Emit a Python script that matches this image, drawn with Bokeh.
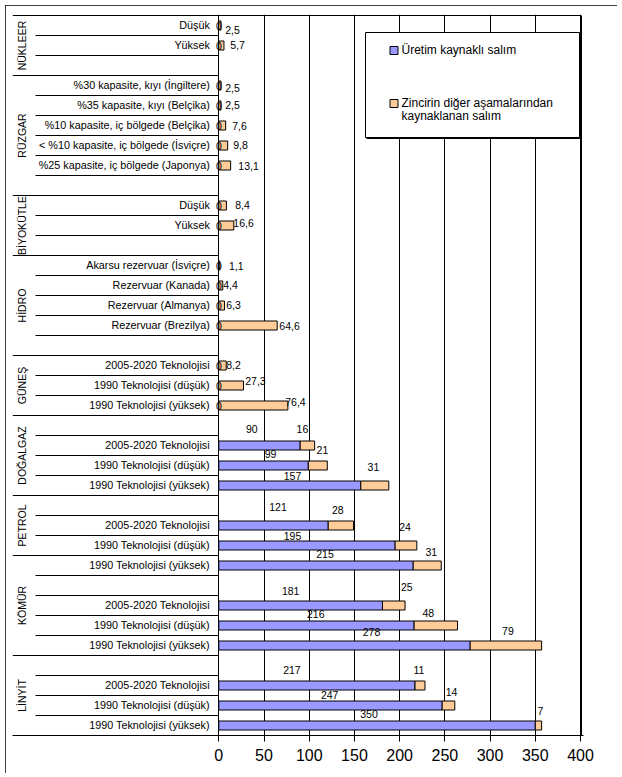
from bokeh.plotting import figure
from bokeh.models import Range1d, FixedTicker, ColumnDataSource
from bokeh.core.properties import value
from bokeh.embed import file_html
from bokeh.resources import INLINE

# ---------------- data ----------------
groups = ["NÜKLEER", "RÜZGAR", "BİYOKÜTLE", "HİDRO", "GÜNEŞ",
          "DOĞALGAZ", "PETROL", "KÖMÜR", "LİNYİT"]
group_sizes = [3, 6, 3, 5, 3, 4, 3, 5, 4]

categories = [
    "Düşük", "Yüksek", "",
    "%30 kapasite, kıyı (İngiltere)", "%35 kapasite, kıyı (Belçika)",
    "%10 kapasite, iç bölgede (Belçika)", "< %10 kapasite, iç bölgede (İsviçre)",
    "%25 kapasite, iç bölgede (Japonya)", "",
    "Düşük", "Yüksek", "",
    "Akarsu rezervuar (İsviçre)", "Rezervuar (Kanada)", "Rezervuar (Almanya)",
    "Rezervuar (Brezilya)", "",
    "2005-2020 Teknolojisi", "1990 Teknolojisi (düşük)", "1990 Teknolojisi (yüksek)",
    "", "2005-2020 Teknolojisi", "1990 Teknolojisi (düşük)", "1990 Teknolojisi (yüksek)",
    "", "2005-2020 Teknolojisi", "1990 Teknolojisi (düşük)", "1990 Teknolojisi (yüksek)",
    "", "2005-2020 Teknolojisi", "1990 Teknolojisi (düşük)", "1990 Teknolojisi (yüksek)",
    "", "2005-2020 Teknolojisi", "1990 Teknolojisi (düşük)", "1990 Teknolojisi (yüksek)",
]
NA = float("nan")
production = [0, 0, NA,
              0, 0, 0, 0, 0, NA,
              0, 0, NA,
              0, 0, 0, 0, NA,
              0, 0, 0,
              NA, 90, 99, 157,
              NA, 121, 195, 215,
              NA, 181, 216, 278,
              NA, 217, 247, 350]
chain = [2.5, 5.7, NA,
         2.5, 2.5, 7.6, 9.8, 13.1, NA,
         8.4, 16.6, NA,
         1.1, 4.4, 6.3, 64.6, NA,
         8.2, 27.3, 76.4,
         NA, 16, 21, 31,
         NA, 28, 24, 31,
         NA, 25, 48, 79,
         NA, 11, 14, 7]
series_names = ["Üretim kaynaklı salım",
                ["Zincirin diğer aşamalarından", "kaynaklanan salım"]]
x_ticks = [0, 50, 100, 150, 200, 250, 300, 350, 400]

# label nudges in screen pixels (dx to the right, dy upwards)
prod_dx = [0, 0, 0, 0, 0, 0, 0, 0, 0, 0, 0, 0, 0, 0, 0, 0, 0, 0, 0, 0,
           0, -7.7, 7, 2.7, 0, 4.5, -14.5, 9, 0, -10, -0.7, 27, 0, -25, -0.8, -8]
prod_dy = [0, 0, 0, 0, 0, 0, 0, 0, 0, 0, 0, 0, 0, 0, 0, 0, 0, 0, 0, 0,
           0, 17, 11.7, 10, 0, 19, 10, 11.7, 0, 15, 11.7, 14, 0, 16, 11, 11.7]
chain_dx = [12.6, 16.1, 0, 12.6, 12.6, 17.3, 17.3, 23.8, 0, 19.9, 17.2, 0,
            16.9, 9.7, 11.8, 41.5, 0, 11, 24.3, 42.1,
            0, -5, 4.6, -1.4, 0, -3, -1, 4, 0, 13, -7.5, 2, 0, -1, 3, 2]
chain_dy = [-4.3, 0.7, 0, -2.3, 0.7, -0.7, 0.7, 0, 0, 1, 2.3, 0,
            0, 0.7, 0.7, 0, 0, 0.7, 5, 4,
            0, 17, 16, 19, 0, 16, 19, 14, 0, 19, 12.3, 15, 0, 16, 14, 14.3]

# ---------------- layout constants (page pixels) ----------------
PAGE_OFF = 5
FIG_W, FIG_H = 612, 768
FRAME_L, FRAME_R, FRAME_T, FRAME_B = 12, 583, 14, 735
ZERO_PX, MAX_PX = 218.3, 580.0
ROW_TOP = 15.0
ROW_PX = 20.0
N = len(categories)
PX_PER_UNIT = (MAX_PX - ZERO_PX) / x_ticks[-1]

def xd(px):
    return (px - ZERO_PX) / PX_PER_UNIT

def yd(py):
    return (py - ROW_TOP) / ROW_PX

BLUE = "#9999FF"
ORANGE = "#FFCC99"
FONT = value("Liberation Sans")

p = figure(width=FIG_W, height=FIG_H,
           x_range=Range1d(xd(FRAME_L), xd(FRAME_R)),
           y_range=Range1d(yd(FRAME_B), yd(FRAME_T)),
           output_backend="svg", toolbar_location=None,
           y_axis_location=None,
           min_border_left=FRAME_L - PAGE_OFF, min_border_top=FRAME_T - PAGE_OFF,
           min_border_right=FIG_W - (FRAME_R - PAGE_OFF),
           min_border_bottom=FIG_H - (FRAME_B - PAGE_OFF))
p.outline_line_color = None
p.background_fill_color = "white"
p.border_fill_color = "white"
p.styles = {"margin": "%dpx 0 0 %dpx" % (PAGE_OFF, PAGE_OFF),
            "outline": "1px solid black", "outline-offset": "-1px"}

# grid
p.ygrid.visible = False
p.xgrid.ticker = FixedTicker(ticks=x_ticks)
p.xgrid.grid_line_color = "black"
p.xgrid.grid_line_alpha = 1.0
p.xgrid.grid_line_width = 1

# axis
ax = p.xaxis[0]
ax.ticker = FixedTicker(ticks=x_ticks)
ax.axis_line_color = "black"
ax.major_tick_line_color = "black"
ax.major_tick_out = 6
ax.major_tick_in = 0
ax.minor_tick_line_color = None
ax.major_label_text_font = "Liberation Sans"
ax.major_label_text_font_size = "16px"
ax.major_label_text_color = "black"
ax.major_label_standoff = 7

# top line of chart + category area, and the shadowed right border
p.segment(x0=[xd(FRAME_L)], y0=[0], x1=[x_ticks[-1]], y1=[0], line_color="black", line_width=1)
p.segment(x0=[xd(MAX_PX + 1)], y0=[0], x1=[xd(MAX_PX + 1)], y1=[N], line_color="black", line_width=1)

# category separators
acc = 0
group_starts = []
for g in group_sizes:
    group_starts.append(acc)
    acc += g
group_bound_set = set(group_starts[1:])
sx0, sy = [], []
for b in range(1, N):
    sx0.append(xd(FRAME_L) if b in group_bound_set else xd(35))
    sy.append(b)
p.segment(x0=sx0, y0=sy, x1=[0] * len(sy), y1=sy, line_color="black", line_width=1)

# bars
rows = [i + 0.5 for i in range(N)]
chain_right = [a + b for a, b in zip(production, chain)]
bsrc = ColumnDataSource(dict(y=rows, pr=production, cl=production, cr=chain_right))
p.hbar(y="y", left=0, right="pr", height=0.45, source=bsrc,
       fill_color=BLUE, line_color="black", line_width=1)
p.hbar(y="y", left="cl", right="cr", height=0.45, source=bsrc,
       fill_color=ORANGE, line_color="black", line_width=1)

# category labels
cy = [i + 0.5 - 0.05 for i in range(N)]
p.text(x=[-9 / PX_PER_UNIT] * N, y=cy, text=categories, text_align="right",
       text_baseline="middle", text_font=FONT, text_font_size="10.8px", text_color="black")

# group labels (vertical)
gy = [s + n / 2 for s, n in zip(group_starts, group_sizes)]
p.text(x=[xd(21.7)] * len(groups), y=gy, text=groups, angle=1.5707963,
       text_align="center", text_baseline="middle", text_font=FONT,
       text_font_size="10.5px", text_color="black")

def fmt(v):
    if float(v).is_integer():
        return str(int(v))
    return ("%.1f" % v).replace(".", ",")

# data labels
lx, ly, lt = [], [], []
for i in range(N):
    pv, cv = production[i], chain[i]
    if pv == pv:
        lx.append(pv / 2 + prod_dx[i] / PX_PER_UNIT)
        ly.append(i + 0.5 - prod_dy[i] / ROW_PX)
        lt.append(fmt(pv))
    if cv == cv:
        lx.append(pv + cv / 2 + chain_dx[i] / PX_PER_UNIT)
        ly.append(i + 0.5 - chain_dy[i] / ROW_PX)
        lt.append(fmt(cv))
p.text(x=lx, y=ly, text=lt, text_align="center", text_baseline="middle",
       text_font=FONT, text_font_size="10.5px", text_color="black")

# legend (drawn manually, with a thin right/bottom shadow)
p.segment(x0=[xd(580), xd(366)], y0=[yd(33), yd(138)], x1=[xd(580), xd(580)], y1=[yd(138), yd(138)],
          line_color="black", line_width=1)
p.quad(left=[xd(365)], right=[xd(579)], top=[yd(32)], bottom=[yd(137)],
       fill_color="white", line_color="black", line_width=1)
p.quad(left=[xd(389.5)] * 2, right=[xd(397.5)] * 2,
       top=[yd(46), yd(99)], bottom=[yd(54), yd(107)],
       fill_color=[BLUE, ORANGE], line_color="black", line_width=1)
leg_texts = [series_names[0], series_names[1][0], series_names[1][1]]
p.text(x=[xd(401)] * 3, y=[yd(49.5), yd(102), yd(115.5)], text=leg_texts,
       text_align="left", text_baseline="middle", text_font=FONT,
       text_font_size="12px", text_color="black")

open("out.html", "w").write(file_html(p, INLINE))
